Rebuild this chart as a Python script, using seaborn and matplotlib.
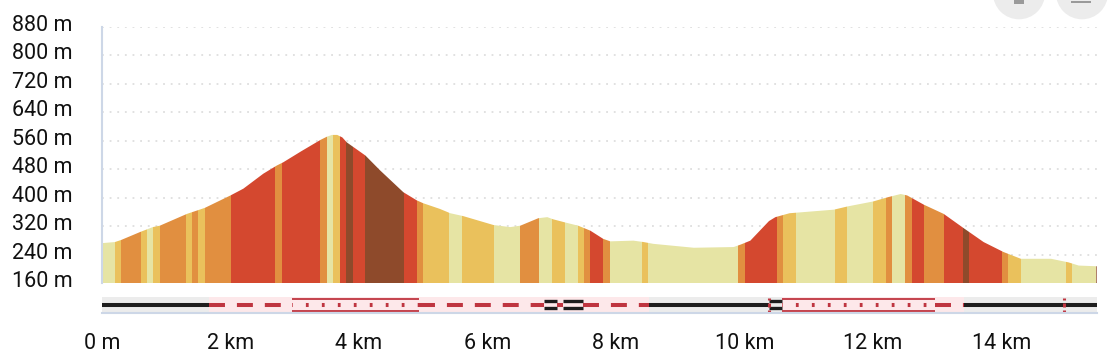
import matplotlib
matplotlib.use("Agg")
import matplotlib.pyplot as plt
from matplotlib.patches import Ellipse, Rectangle
from matplotlib.transforms import ScaledTranslation
import seaborn as sns

# elevation profile (km, m)
dist_km = [0, 0.2, 0.3, 0.59, 0.79, 0.9, 1.32, 1.6, 2.0, 2.2, 2.51, 2.72, 2.82, 3.1,
           3.4, 3.5, 3.58, 3.66, 3.74, 3.81, 4.1, 4.33, 4.69, 4.9, 5.0, 5.26, 5.42, 5.62,
           6.09, 6.35, 6.51, 6.79, 6.93, 7.02, 7.21, 7.41, 7.6, 7.8, 7.91, 8.27, 8.43,
           8.58, 9.21, 9.83, 9.94, 10.09, 10.38, 10.48, 10.7, 11.39, 11.6, 12.0, 12.23,
           12.43, 12.53, 12.79, 13.1, 13.41, 13.72, 14.03, 14.3, 14.77, 15.04, 15.2, 15.48]
elev_m = [272, 275, 281, 303, 317, 321, 354, 371, 406, 425, 467, 490, 499, 530,
          562, 571, 576, 576, 569, 555, 518, 476, 415, 392, 384, 368, 356, 348,
          323, 317, 321, 342, 345, 339, 330, 321, 307, 284, 277, 279, 275,
          270, 259, 261, 268, 279, 334, 345, 356, 366, 375, 389, 401,
          410, 406, 380, 354, 314, 275, 247, 228, 228, 218, 209, 207]

# slope classes along the route
seg_start = [0, 0.2, 0.3, 0.6, 0.7, 0.8, 0.9, 1.3, 1.4, 1.5, 1.6, 2.0, 2.7, 2.8, 3.4,
             3.5, 3.6, 3.7, 3.8, 3.9, 4.1, 4.7, 4.9, 5.0, 5.4, 5.6, 6.1, 6.5, 6.8,
             7.0, 7.2, 7.4, 7.5, 7.6, 7.8, 7.9, 8.4, 8.5, 9.9, 10.0, 10.5, 10.6,
             10.8, 11.4, 11.6, 12.0, 12.2, 12.3, 12.5, 12.6, 12.8, 13.1, 13.4, 13.5,
             14.0, 14.1, 14.3, 15.0, 15.1, 15.47]
seg_class = ["flat", "easy", "mid", "easy", "flat", "easy", "mid", "easy", "mid", "easy",
             "mid", "steep", "mid", "steep", "mid", "flat", "easy", "steep", "xsteep",
             "steep", "xsteep", "steep", "mid", "easy", "flat", "easy", "flat", "mid",
             "flat", "easy", "flat", "easy", "mid", "steep", "mid", "flat", "easy",
             "flat", "mid", "steep", "mid", "easy", "flat", "easy", "flat", "easy",
             "mid", "flat", "mid", "steep", "mid", "steep", "xsteep", "steep", "mid",
             "easy", "flat", "easy", "flat", "xsteep"]
route_end = 15.48

slope_colors = {"flat": "#E6E4A4", "easy": "#EAC15C", "mid": "#E18F40",
                "steep": "#D4482F", "xsteep": "#8E4A2B"}

# surface / way type strip
way_start = [0, 1.66, 2.95, 4.93, 6.88, 7.08, 7.18, 7.48, 8.51, 10.38, 10.59, 12.97, 13.41]
way_end = [1.66, 2.95, 4.93, 6.88, 7.08, 7.18, 7.48, 8.51, 10.38, 10.59, 12.97, 13.41, 15.48]
way_type = ["road", "path", "track", "path", "bridge", "path", "bridge", "path",
            "road", "bridge", "track", "path", "road"]
way_marks = [10.375, 14.975]

y_ticks = [160, 240, 320, 400, 480, 560, 640, 720, 800, 880]
x_ticks = [0, 2, 4, 6, 8, 10, 12, 14]
x_labels = ["0 m", "2 km", "4 km", "6 km", "8 km", "10 km", "12 km", "14 km"]

sns.set_style("white")
plt.rcParams["font.family"] = ["Roboto", "DejaVu Sans"]
plt.rcParams["lines.scale_dashes"] = False

axis_blue = "#cdd7e7"
red = "#bf3540"
black = "#1e1e1e"

fig = plt.figure(figsize=(11.1, 3.58), dpi=100)
ax = fig.add_axes([102 / 1110, 75 / 358, 994.7 / 1110, 256.3 / 358])
ax2 = fig.add_axes([102 / 1110, 45.5 / 358, 994.7 / 1110, 15.2 / 358])

# profile
ax.set_xlim(0, route_end)
ax.set_ylim(160, 880)
for v in y_ticks:
    ax.axhline(v, color="#d8d8d8", lw=1.1, ls=(0, (1.3, 4.2)), zorder=0)
prof = ax.fill_between(dist_km, elev_m, 160, color="none", lw=0)
clip = prof.get_paths()[0]
seg_end = seg_start[1:] + [route_end]
for s, e, c in zip(seg_start, seg_end, seg_class):
    r = Rectangle((s, 160), e - s, 720, facecolor=slope_colors[c], edgecolor="none", zorder=2)
    ax.add_patch(r)
    r.set_clip_path(clip, ax.transData)

ax.set_yticks(y_ticks)
ax.set_yticklabels([f"{v} m" for v in y_ticks])
ax.tick_params(axis="y", length=0, pad=21, labelsize=15.5, labelcolor="#111111")
up = ScaledTranslation(0, 4 / 100, fig.dpi_scale_trans)
for lbl in ax.get_yticklabels():
    lbl.set_transform(lbl.get_transform() + up)
ax.set_xticks([])
for sp in ["top", "right", "bottom"]:
    ax.spines[sp].set_visible(False)
ax.spines["left"].set_color(axis_blue)
ax.spines["left"].set_linewidth(1.5)

# way type strip
ax2.set_xlim(0, route_end)
ax2.set_ylim(0, 1)
for s, e, t in zip(way_start, way_end, way_type):
    bg = "#ececec" if t == "road" or (t == "bridge" and s > 10) else "#fde8ea"
    ax2.axvspan(s, e, color=bg, lw=0, zorder=0)
    if t == "road":
        sns.lineplot(x=[s, e], y=[0.5, 0.5], color=black, lw=2.9, solid_capstyle="butt", ax=ax2)
    elif t == "path":
        sns.lineplot(x=[s, e], y=[0.5, 0.5], color=red, lw=2.9, linestyle=(0, (11.5, 8.6)),
                     dash_capstyle="butt", ax=ax2)
    elif t == "track":
        for yy in [0.87, 0.13]:
            sns.lineplot(x=[s, e], y=[yy, yy], color=red, lw=1.3, solid_capstyle="butt", ax=ax2)
        sns.lineplot(x=[s, e], y=[0.5, 0.5], color=red, lw=2.9, linestyle=(1.5, (2.0, 9.5)),
                     dash_capstyle="butt", ax=ax2)
    else:
        for yy in [0.78, 0.27]:
            sns.lineplot(x=[s, e], y=[yy, yy], color=black, lw=2.4, solid_capstyle="butt", ax=ax2)
for m in way_marks:
    for y0, y1 in [(0.84, 0.98), (0.35, 0.65), (0.02, 0.16)]:
        ax2.plot([m, m], [y0, y1], color=red, lw=2.2, solid_capstyle="butt")

ax2.set_yticks([])
ax2.set_xticks(x_ticks)
ax2.set_xticklabels(x_labels)
ax2.tick_params(axis="x", length=13, width=1.5, color=axis_blue, pad=2,
                labelsize=15.5, labelcolor="#111111")
for sp in ["top", "right", "left"]:
    ax2.spines[sp].set_visible(False)
ax2.spines["bottom"].set_color(axis_blue)
ax2.spines["bottom"].set_linewidth(1.5)

# corner buttons
for cx in [1019, 1082]:
    fig.patches.append(Ellipse((cx / 1110, 1 + 6.7 / 358), 52 / 1110, 52 / 358,
                               transform=fig.transFigure, facecolor="#ececec", edgecolor="none"))
fig.patches.append(Rectangle((1013.7 / 1110, 1 - 4.3 / 358), 10.6 / 1110, 4.3 / 358,
                             transform=fig.transFigure, facecolor="#9a9a9a", edgecolor="none"))
fig.patches.append(Rectangle((1071 / 1110, 1 - 2.7 / 358), 20 / 1110, 1.7 / 358,
                             transform=fig.transFigure, facecolor="#9a9a9a", edgecolor="none"))

fig.savefig("out.png", dpi=100)
